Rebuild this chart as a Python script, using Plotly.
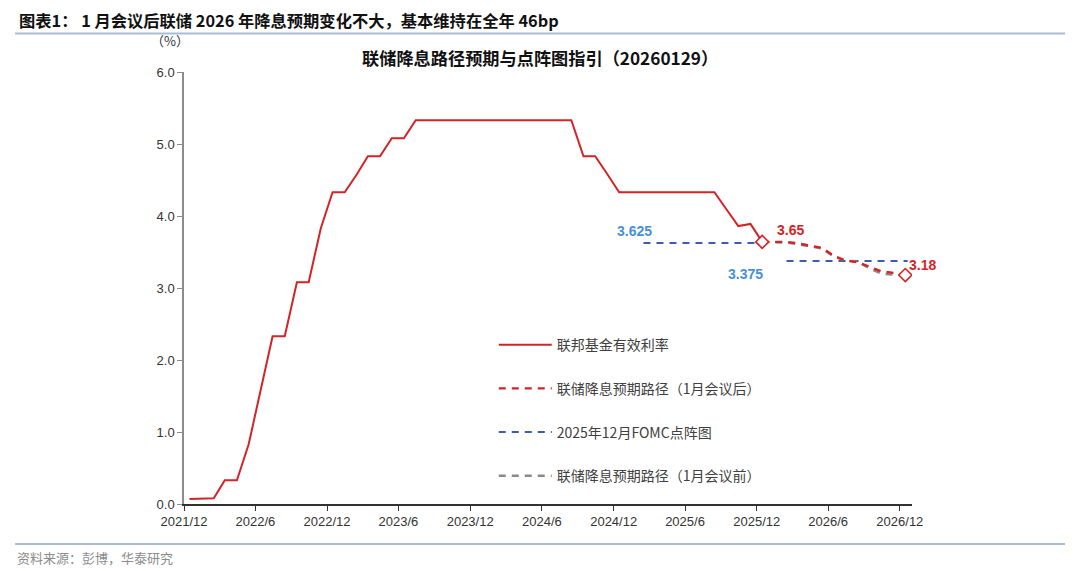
import pandas as pd
import plotly.graph_objects as go

# ---------------- data ----------------
months_hist = pd.date_range("2021-12-01", "2025-12-01", freq="MS") + pd.Timedelta(days=14)
fed_rate = [0.07, 0.08, 0.08, 0.33, 0.33, 0.83, 1.58, 2.33, 2.33, 3.08, 3.08, 3.83,
            4.33, 4.33, 4.58, 4.83, 4.83, 5.08, 5.08, 5.33,
            5.33, 5.33, 5.33, 5.33, 5.33, 5.33, 5.33, 5.33, 5.33, 5.33, 5.33, 5.33, 5.33,
            4.83, 4.83, 4.58, 4.33,
            4.33, 4.33, 4.33, 4.33, 4.33, 4.33, 4.33, 4.33,
            4.09, 3.86, 3.89, 3.64]

months_proj = pd.date_range("2025-12-01", "2026-12-01", freq="MS") + pd.Timedelta(days=14)
path_after = [3.64, 3.64, 3.64, 3.62, 3.59, 3.56, 3.45, 3.38, 3.36, 3.29, 3.23, 3.21, 3.18]
path_before = [3.64, 3.64, 3.63, 3.61, 3.58, 3.55, 3.44, 3.38, 3.37, 3.27, 3.20, 3.18, 3.17]

dot_x = ["2025-02-15", "2025-12-15", None, "2026-02-15", "2026-12-21"]
dot_y = [3.625, 3.625, None, 3.375, 3.375]

tick_vals = ["2021-12-01", "2022-06-01", "2022-12-01", "2023-06-01", "2023-12-01", "2024-06-01",
             "2024-12-01", "2025-06-01", "2025-12-01", "2026-06-01", "2026-12-01"]
tick_text = ["2021/12", "2022/6", "2022/12", "2023/6", "2023/12", "2024/6",
             "2024/12", "2025/6", "2025/12", "2026/6", "2026/12"]

# ---------------- style ----------------
RED = "#d42327"
BLUE = "#3d5ea6"
LBLUE = "#4a8fd6"
GRAY = "#8a8a8a"
FONT = "Liberation Sans, Arial, Noto Sans CJK SC"
CJK = "Noto Sans CJK SC, Liberation Sans"

fig = go.Figure()

fig.add_trace(go.Scatter(x=months_hist, y=fed_rate, mode="lines", name="联邦基金有效利率",
                         line=dict(color=RED, width=2), legendrank=1, legendgroup="a"))
fig.add_trace(go.Scatter(x=dot_x, y=dot_y, mode="lines", name="2025年12月FOMC点阵图",
                         line=dict(color=BLUE, width=2, dash="7px,6px"), legendrank=3,
                         legendgroup="c", connectgaps=False))
fig.add_trace(go.Scatter(x=months_proj, y=path_before, mode="lines", name="联储降息预期路径（1月会议前）",
                         line=dict(color=GRAY, width=2.4, dash="7px,6px"), legendrank=4, legendgroup="d"))
fig.add_trace(go.Scatter(x=months_proj, y=path_after, mode="lines", name="联储降息预期路径（1月会议后）",
                         line=dict(color=RED, width=2.4, dash="7px,6px"), legendrank=2, legendgroup="b"))
fig.add_trace(go.Scatter(x=[months_proj[0], months_proj[-1]], y=[path_after[0], path_after[-1]],
                         mode="markers", showlegend=False,
                         marker=dict(symbol="diamond", size=10, color="white",
                                     line=dict(color=RED, width=1.6))))

annotations = [
    dict(x="2025-01-22", y=3.625, text="<b>3.625</b>", showarrow=False, yshift=12,
         font=dict(color=LBLUE, size=14, family=FONT)),
    dict(x="2026-02-15", y=3.375, text="<b>3.375</b>", showarrow=False, xshift=-41, yshift=-13,
         font=dict(color=LBLUE, size=14, family=FONT)),
    dict(x=months_proj[0], y=path_after[0], text="<b>3.65</b>", showarrow=False, xshift=28, yshift=12,
         font=dict(color=RED, size=14, family=FONT)),
    dict(x=months_proj[-1], y=path_after[-1], text="<b>3.18</b>", showarrow=False, xshift=17, yshift=10,
         font=dict(color=RED, size=14, family=FONT)),
    dict(xref="paper", yref="paper", x=-0.2294, y=1.1204, xanchor="left", yanchor="middle",
         text="<b>图表1： 1 月会议后联储 2026 年降息预期变化不大，基本维持在全年 46bp</b>",
         showarrow=False, font=dict(size=16.3, color="#111111", family=CJK)),
    dict(xref="paper", yref="paper", x=0.489, y=1.0347, xanchor="center", yanchor="middle",
         text="<b>联储降息路径预期与点阵图指引（20260129）</b>",
         showarrow=False, font=dict(size=17.2, color="#111111", family=CJK)),
    dict(xref="paper", yref="paper", x=-0.0192, y=1.0718, xanchor="center", yanchor="middle",
         text="（%）", showarrow=False, font=dict(size=13, color="#333333", family=CJK)),
    dict(xref="paper", yref="paper", x=-0.232, y=-0.1227, xanchor="left", yanchor="middle",
         text="资料来源：彭博，华泰研究", showarrow=False,
         font=dict(size=13, color="#8c8c8c", family=CJK)),
]

shapes = [
    dict(type="line", xref="paper", yref="paper", x0=-0.232, x1=1.2102, y0=1.089, y1=1.089,
         line=dict(color="#a9bcd6", width=2)),
    dict(type="line", xref="paper", yref="paper", x0=-0.232, x1=1.2102, y0=-0.0926, y1=-0.0926,
         line=dict(color="#a9bcd6", width=2)),
]

# the page body has an 8px margin: the figure is sized/offset to compensate
fig.update_layout(
    width=1072, height=563,
    margin=dict(l=176, r=168, t=64, b=67),
    paper_bgcolor="white", plot_bgcolor="white",
    font=dict(family=FONT, size=13, color="#333333"),
    showlegend=True,
    legend=dict(x=0.4255, y=0.405, xanchor="left", yanchor="top",
                bgcolor="rgba(0,0,0,0)", tracegroupgap=22.5, itemwidth=53,
                font=dict(size=14, color="#404040", family=CJK)),
    annotations=annotations,
    shapes=shapes,
    xaxis=dict(type="date", range=["2021-12-01", "2027-01-01"],
               tickvals=tick_vals, ticktext=tick_text,
               showgrid=False, zeroline=False, showline=True, linecolor="#333333", linewidth=1.5,
               ticks="outside", ticklen=5, tickcolor="#333333", tickwidth=1.2,
               tickfont=dict(size=13, color="#333333")),
    yaxis=dict(range=[0, 6], dtick=1, tickformat=".1f",
               showgrid=False, zeroline=False, showline=True, linecolor="#8c8c8c", linewidth=1.5,
               ticks="outside", ticklen=5, tickcolor="#8c8c8c", tickwidth=1.2,
               tickfont=dict(size=13, color="#333333")),
)

fig.write_html("out.html")
